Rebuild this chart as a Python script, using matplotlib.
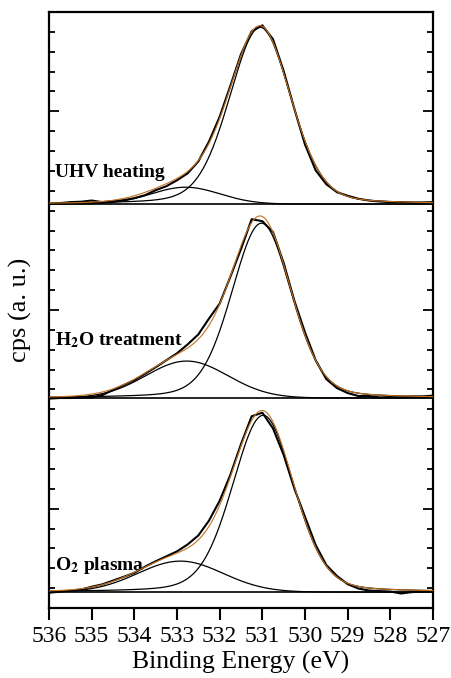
import matplotlib.pyplot as plt
import numpy as np
from matplotlib.ticker import MultipleLocator, FixedLocator

plt.rcParams['font.family'] = ['Liberation Serif', 'DejaVu Serif']
plt.rcParams['mathtext.fontset'] = 'stix'

# --- DATA ---
# binding energy of the sampled spectra (eV), 536 -> 527 in 0.25 eV steps
energy = np.linspace(536, 527, 37)

# measured O1s spectra, height above background (arb. units)
uhv_counts = [0.0, 0.05, 0.10, 0.12, 0.18, 0.10, 0.15, 0.20, 0.30, 0.45, 0.70, 0.90,
              1.20, 1.55, 2.15, 3.15, 4.40, 5.95, 7.55, 8.70, 9.00, 8.30, 6.70, 4.80,
              3.00, 1.70, 1.00, 0.60, 0.42, 0.27, 0.18, 0.13, 0.10, 0.10, 0.07, 0.08, 0.10]
h2o_counts = [-0.03, 0.0, 0.0, 0.02, 0.02, 0.15, 0.40, 0.65, 0.90, 1.22, 1.55, 1.90,
              2.25, 2.70, 3.20, 4.00, 4.75, 6.10, 7.50, 9.00, 8.90, 8.35, 6.80, 4.90,
              3.30, 1.90, 0.95, 0.50, 0.25, 0.10, 0.10, 0.03, 0.05, 0.03, 0.07, 0.08, 0.12]
o2_counts = [-0.03, 0.02, 0.07, 0.13, 0.27, 0.39, 0.58, 0.77, 0.97, 1.28, 1.55, 1.80,
             2.05, 2.40, 2.85, 3.60, 4.60, 5.90, 7.45, 8.85, 9.03, 8.24, 6.90, 5.22,
             3.79, 2.37, 1.36, 0.81, 0.40, 0.18, 0.08, 0.05, 0.03, -0.07, 0.0, 0.02, 0.03]

# fitted components: centre (eV), FWHM (eV), height, Lorentzian fraction
uhv_peaks = [(531.05, 1.70, 8.90, 0.2), (532.80, 1.90, 0.85, 0.0)]
h2o_peaks = [(531.02, 1.65, 8.80, 0.2), (532.77, 2.26, 1.86, 0.0)]
o2_peaks = [(530.98, 1.70, 8.90, 0.2), (532.92, 2.35, 1.56, 0.0)]

labels = ['UHV heating', r'H$_\mathbf{2}$O treatment', r'O$_\mathbf{2}$ plasma']
label_y = [21.94, 13.49, 2.16]
offsets = [20.33, 10.57, 0.8]


def pseudo_voigt(x, centre, fwhm, height, frac):
    u = (x - centre) / fwhm
    return height * ((1 - frac) * np.exp(-4 * np.log(2) * u ** 2) + frac / (1 + 4 * u ** 2))


fig = plt.figure(figsize=(4.51, 6.78), dpi=100)
ax = fig.add_axes([49 / 451, 1 - 608 / 678, 384 / 451, 596 / 678])

fine = np.linspace(536, 527, 600)
spectra = [uhv_counts, h2o_counts, o2_counts]
fits = [uhv_peaks, h2o_peaks, o2_peaks]

for counts, peaks, off, name, ly in zip(spectra, fits, offsets, labels, label_y):
    # background line across the whole range
    ax.axhline(off, color='black', lw=1.2, zorder=2)
    envelope = np.zeros_like(fine)
    for c, w, h, m in peaks:
        comp = pseudo_voigt(fine, c, w, h, m)
        envelope += comp
        ax.plot(fine, comp + off, color='black', lw=0.9, zorder=3)
    ax.plot(energy, np.array(counts) + off, color='black', lw=1.5, zorder=4)
    ax.plot(fine, envelope + off, color='#c0701f', lw=0.8, zorder=5)
    ax.text(535.87, ly, name, fontsize=14, fontweight='bold', va='center', ha='left')

ax.set_xlim(536, 527)
ax.set_ylim(0, 30)
ax.set_xticks(np.arange(536, 526, -1))
ax.set_xticklabels([str(v) for v in range(536, 526, -1)], fontsize=17)
ax.xaxis.set_minor_locator(FixedLocator([]))
ax.yaxis.set_major_locator(FixedLocator([5, 15, 25]))
ax.yaxis.set_minor_locator(MultipleLocator(1))
ax.set_yticklabels([])

ax.tick_params(axis='x', direction='out', length=8.5, width=1.5, pad=4.5)
ax.tick_params(axis='y', which='major', direction='in', length=7, width=1.3,
               left=True, right=True)
ax.tick_params(axis='y', which='minor', direction='in', length=4, width=1.3,
               left=True, right=True)
for sp in ax.spines.values():
    sp.set_linewidth(1.6)

ax.set_xlabel('Binding Energy (eV)', fontsize=18.5, labelpad=3)
fig.text(20 / 451, 1 - 310 / 678, 'cps (a. u.)', rotation=90, fontsize=19,
         ha='center', va='center')

fig.savefig('out.png', dpi=100)
